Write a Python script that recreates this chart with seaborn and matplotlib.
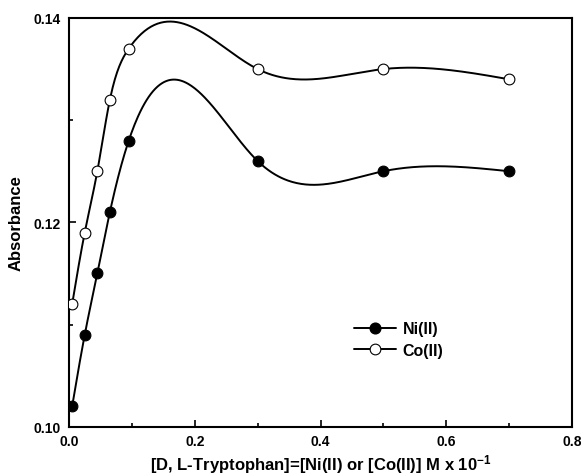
import numpy as np
import pandas as pd
import matplotlib
matplotlib.use("Agg")
import matplotlib.pyplot as plt
import seaborn as sns
from matplotlib.lines import Line2D
from matplotlib.ticker import MultipleLocator

sns.set_theme(style="ticks")
plt.rcParams['font.family'] = ['Liberation Sans', 'DejaVu Sans']
plt.rcParams['font.weight'] = 'bold'
plt.rcParams['text.color'] = 'black'
plt.rcParams['axes.labelcolor'] = 'black'
plt.rcParams['xtick.color'] = 'black'
plt.rcParams['ytick.color'] = 'black'
plt.rcParams['mathtext.fontset'] = 'custom'
plt.rcParams['mathtext.rm'] = 'Liberation Sans:bold'
plt.rcParams['mathtext.bf'] = 'Liberation Sans:bold'
plt.rcParams['mathtext.default'] = 'bf'

conc = [0.005, 0.025, 0.045, 0.065, 0.095, 0.3, 0.5, 0.7]
ni_abs = [0.102, 0.109, 0.115, 0.121, 0.128, 0.126, 0.125, 0.125]
co_abs = [0.112, 0.119, 0.125, 0.132, 0.137, 0.135, 0.135, 0.134]
series_names = ["Ni(II)", "Co(II)"]
x_ticks = [0.0, 0.2, 0.4, 0.6, 0.8]
y_ticks = [0.10, 0.12, 0.14]


def natural_spline(x, y, n=400):
    x = np.asarray(x, float); y = np.asarray(y, float)
    k = len(x); h = np.diff(x)
    A = np.zeros((k, k)); b = np.zeros(k)
    A[0, 0] = 1; A[-1, -1] = 1
    for i in range(1, k - 1):
        A[i, i - 1] = h[i - 1]; A[i, i] = 2 * (h[i - 1] + h[i]); A[i, i + 1] = h[i]
        b[i] = 6 * ((y[i + 1] - y[i]) / h[i] - (y[i] - y[i - 1]) / h[i - 1])
    M = np.linalg.solve(A, b)
    xs = np.linspace(x[0], x[-1], n)
    idx = np.clip(np.searchsorted(x, xs) - 1, 0, k - 2)
    x0, x1 = x[idx], x[idx + 1]; hh = x1 - x0
    t0 = x1 - xs; t1 = xs - x0
    ys = (M[idx] * t0 ** 3 + M[idx + 1] * t1 ** 3) / (6 * hh) \
        + (y[idx] / hh - M[idx] * hh / 6) * t0 + (y[idx + 1] / hh - M[idx + 1] * hh / 6) * t1
    return xs, ys


fig = plt.figure(figsize=(5.81, 4.77), dpi=100)
ax = fig.add_axes([0.1188, 0.1034, 0.8657, 0.8568])

for name, vals, face in [(series_names[0], ni_abs, "black"), (series_names[1], co_abs, "white")]:
    xs, ys = natural_spline(conc, vals)
    sns.lineplot(x=xs, y=ys, ax=ax, color="black", lw=1.4, sort=False)
    sns.scatterplot(x=conc, y=vals, ax=ax, color=face, edgecolor="black",
                    linewidth=0.8, s=60, zorder=5)

ax.set_xlim(0, 0.8)
ax.set_ylim(0.10, 0.14)
ax.set_xticks(x_ticks)
ax.set_yticks(y_ticks)
ax.xaxis.set_minor_locator(MultipleLocator(0.1))
ax.yaxis.set_minor_locator(MultipleLocator(0.01))
ax.set_xticklabels([f"{v:.1f}" for v in x_ticks], fontsize=10, fontweight="bold")
ax.set_yticklabels([f"{v:.2f}" for v in y_ticks], fontsize=10, fontweight="bold")
ax.tick_params(which="major", direction="in", length=5, width=1.2, pad=5)
ax.tick_params(which="minor", direction="in", length=3, width=1.2)
ax.tick_params(axis="y", pad=6)
for sp in ax.spines.values():
    sp.set_linewidth(1.5)
    sp.set_color("black")

ax.set_xlabel("[D, L-Tryptophan]=[Ni(II) or [Co(II)] M x 10$^{-1}$",
              fontsize=12, fontweight="bold", labelpad=3)
ax.set_ylabel("Absorbance", fontsize=12, fontweight="bold", labelpad=7)

handles = [Line2D([], [], color="black", lw=1.4, marker="o", ms=7.7, mfc="black", mec="black"),
           Line2D([], [], color="black", lw=1.4, marker="o", ms=7.7, mfc="white", mec="black", mew=0.8)]
ax.legend(handles, series_names, loc="upper left", bbox_to_anchor=(0.5666, 0.258),
          frameon=False, prop={"weight": "bold", "size": 11.5},
          handlelength=2.6, handletextpad=0.44, labelspacing=0.42,
          borderpad=0, borderaxespad=0)

fig.savefig("out.png", dpi=100)
